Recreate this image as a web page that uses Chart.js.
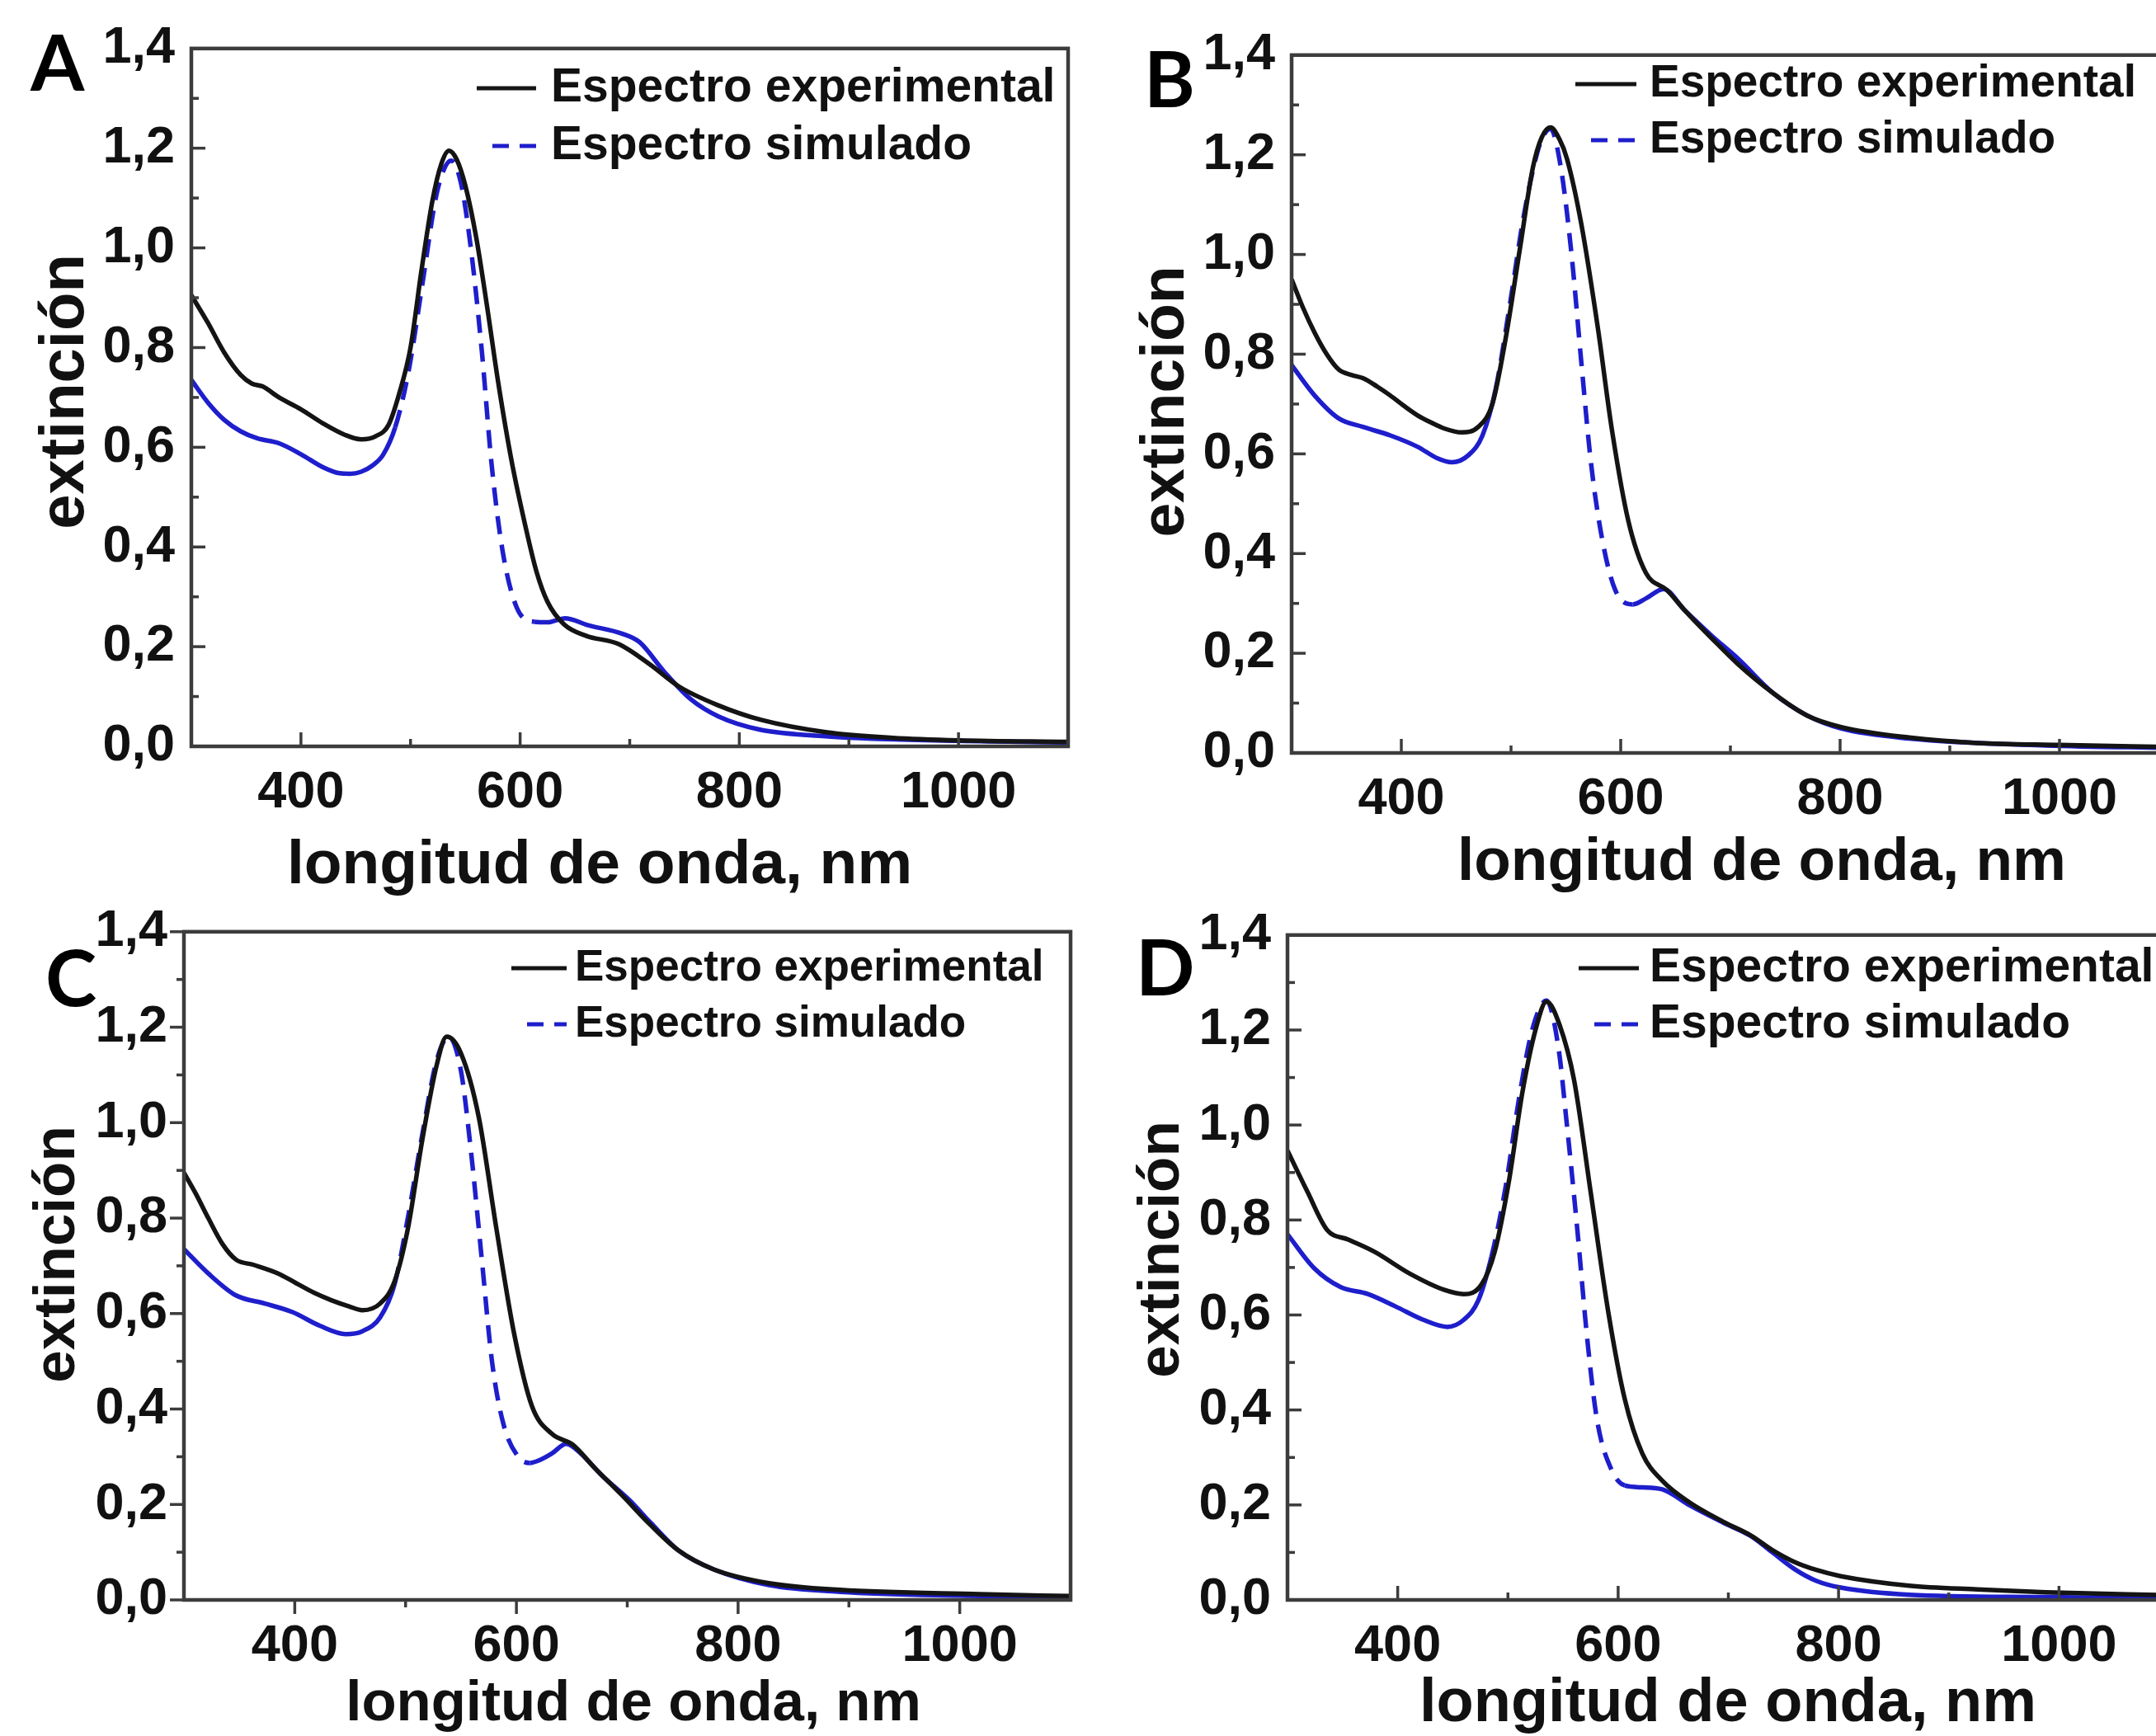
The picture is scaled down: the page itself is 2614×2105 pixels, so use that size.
<!DOCTYPE html>
<html lang="es">
<head>
    <meta charset="UTF-8">
    <title>Espectros de extinción</title>
    <script src="https://cdn.jsdelivr.net/npm/chart.js@4.4.1/dist/chart.umd.min.js"></script>
    <style>
        html, body { margin: 0; padding: 0; background: #fff; }
        body { width: 2614px; height: 2105px; overflow: hidden; position: relative; }
        canvas.panel { position: absolute; }
    </style>
</head>
<body>
<script>
// ---- data ----
const xAxisTitle = 'longitud de onda, nm';
const yAxisTitle = 'extinción';
const seriesLabels = ['Espectro experimental', 'Espectro simulado'];
const panelLetters = ['A', 'B', 'C', 'D'];
const xTickValues = [400, 600, 800, 1000];
const yTickValues = [0, 0.2, 0.4, 0.6, 0.8, 1.0, 1.2, 1.4];

// panel A
const wlExpA  = [300, 315, 330, 345, 355, 365, 380, 400, 420, 440, 455, 468, 480, 490, 500, 510, 520, 528, 535, 542, 550, 560, 570, 580, 592, 605, 615, 625, 640, 660, 690, 718, 745, 780, 820, 880, 940, 1000, 1100];
const expA    = [0.905, 0.85, 0.79, 0.745, 0.728, 0.722, 0.70, 0.676, 0.648, 0.625, 0.616, 0.622, 0.645, 0.71, 0.80, 0.955, 1.095, 1.168, 1.195, 1.178, 1.125, 1.02, 0.88, 0.73, 0.575, 0.44, 0.35, 0.29, 0.245, 0.222, 0.205, 0.165, 0.12, 0.083, 0.053, 0.028, 0.017, 0.012, 0.009];
const wlSimA  = [300, 315, 330, 345, 360, 380, 400, 420, 435, 445, 455, 465, 475, 486, 498, 511, 523, 530, 537, 546, 555, 565, 574, 584, 597, 613, 625, 641, 662, 693, 709, 731, 756, 781, 818, 881, 1000, 1100];
const simA    = [0.735, 0.69, 0.655, 0.632, 0.618, 0.608, 0.586, 0.56, 0.548, 0.547, 0.551, 0.563, 0.585, 0.64, 0.75, 0.93, 1.10, 1.155, 1.175, 1.13, 1.0, 0.794, 0.565, 0.392, 0.278, 0.25, 0.249, 0.257, 0.243, 0.226, 0.209, 0.151, 0.094, 0.06, 0.034, 0.02, 0.011, 0.008];

// panel B
const wlExpB  = [300, 310, 321, 332, 343, 355, 365, 378, 390, 402, 415, 427, 439, 455, 470, 483, 495, 508, 520, 528, 536, 544, 551, 564, 579, 592, 607, 623, 642, 658, 683, 707, 739, 770, 801, 863, 925, 1000, 1100];
const expB    = [0.95, 0.895, 0.843, 0.80, 0.769, 0.758, 0.752, 0.735, 0.717, 0.697, 0.677, 0.663, 0.651, 0.643, 0.654, 0.70, 0.83, 1.01, 1.175, 1.235, 1.255, 1.232, 1.192, 1.062, 0.855, 0.648, 0.465, 0.361, 0.327, 0.287, 0.23, 0.178, 0.12, 0.075, 0.052, 0.031, 0.02, 0.016, 0.012];
const wlSimB  = [300, 321, 343, 365, 390, 415, 433, 446, 461, 474, 486, 499, 511, 524, 530, 536, 545, 555, 564, 573, 583, 595, 611, 623, 639, 658, 683, 707, 739, 770, 801, 863, 988, 1100];
const simB    = [0.778, 0.717, 0.671, 0.654, 0.637, 0.614, 0.591, 0.583, 0.597, 0.637, 0.73, 0.90, 1.07, 1.205, 1.24, 1.252, 1.18, 1.004, 0.786, 0.58, 0.43, 0.327, 0.298, 0.31, 0.329, 0.287, 0.235, 0.189, 0.12, 0.075, 0.049, 0.029, 0.015, 0.01];

// panel C
const wlExpC  = [300, 311, 322, 335, 347, 363, 385, 401, 417, 433, 449, 461, 477, 490, 502, 515, 528, 537, 550, 566, 582, 598, 614, 632, 651, 670, 695, 721, 746, 778, 828, 892, 1018, 1100];
const expC    = [0.895, 0.85, 0.80, 0.745, 0.713, 0.702, 0.684, 0.664, 0.644, 0.628, 0.615, 0.607, 0.621, 0.667, 0.777, 0.963, 1.12, 1.18, 1.145, 1.012, 0.777, 0.557, 0.406, 0.348, 0.325, 0.278, 0.22, 0.157, 0.104, 0.064, 0.035, 0.021, 0.012, 0.008];
const wlSimC  = [300, 322, 347, 373, 398, 423, 446, 461, 477, 490, 502, 515, 528, 539, 550, 559, 569, 578, 588, 601, 612, 620, 632, 645, 658, 677, 702, 721, 746, 778, 828, 892, 1000, 1100];
const simC    = [0.735, 0.684, 0.638, 0.621, 0.603, 0.574, 0.557, 0.563, 0.592, 0.661, 0.80, 0.974, 1.13, 1.18, 1.108, 0.94, 0.708, 0.499, 0.371, 0.302, 0.287, 0.292, 0.307, 0.327, 0.307, 0.261, 0.209, 0.162, 0.104, 0.064, 0.031, 0.017, 0.009, 0.006];

// panel D
const wlExpD  = [300, 318, 336, 355, 379, 411, 442, 460, 476, 488, 501, 513, 525, 535, 547, 560, 575, 591, 606, 622, 640, 665, 696, 721, 740, 760, 780, 802, 864, 926, 988, 1100];
const expD    = [0.946, 0.86, 0.779, 0.759, 0.733, 0.687, 0.653, 0.644, 0.664, 0.733, 0.883, 1.067, 1.20, 1.26, 1.21, 1.095, 0.86, 0.607, 0.423, 0.308, 0.251, 0.205, 0.164, 0.135, 0.105, 0.08, 0.063, 0.05, 0.03, 0.022, 0.016, 0.01];
const wlSimD  = [300, 324, 348, 373, 398, 423, 445, 460, 473, 485, 498, 510, 522, 535, 546, 553, 563, 572, 581, 594, 606, 622, 640, 665, 696, 720, 740, 760, 780, 802, 864, 988, 1100];
const simD    = [0.77, 0.699, 0.659, 0.644, 0.618, 0.59, 0.575, 0.59, 0.63, 0.722, 0.871, 1.055, 1.20, 1.262, 1.16, 1.012, 0.779, 0.549, 0.377, 0.274, 0.241, 0.237, 0.233, 0.199, 0.162, 0.135, 0.1, 0.065, 0.04, 0.026, 0.011, 0.006, 0.003];

// ---- layout of each panel on the page ----
const panels = [
    { letter: panelLetters[0], lx: 37, ly: 110,
      plot: { l: 232, t: 51, r: 1295, b: 905 }, ticksIn: true, dash: [486, 613],
      xt: { x: 727, y: 1050, size: 75 }, yt: { x: 80, y: 475, size: 76 },
      lg: { x0: 578, x1: 650, tx: 668, y1: 107, y2: 177, size: 57 },
      exp: [wlExpA, expA], sim: [wlSimA, simA] },
    { letter: panelLetters[1], lx: 1387, ly: 130,
      plot: { l: 1566, t: 59, r: 2630, b: 913 }, ticksIn: true, dash: [486, 611],
      xt: { x: 2136, y: 1047, size: 73 }, yt: { x: 1414, y: 487, size: 75 },
      lg: { x0: 1910, x1: 1984, tx: 2000, y1: 102, y2: 170, size: 55 },
      exp: [wlExpB, expB], sim: [wlSimB, simB] },
    { letter: panelLetters[2], lx: 55, ly: 1220,
      plot: { l: 223, t: 1122, r: 1298, b: 1940 }, ticksIn: false, dash: [490, 612],
      xt: { x: 768, y: 2067, size: 69 }, yt: { x: 70, y: 1521, size: 71 },
      lg: { x0: 620, x1: 687, tx: 697, y1: 1174, y2: 1242, size: 53 },
      exp: [wlExpC, expC], sim: [wlSimC, simC] },
    { letter: panelLetters[3], lx: 1377, ly: 1207,
      plot: { l: 1561, t: 1126, r: 2630, b: 1940 }, ticksIn: true, dash: [485, 606],
      xt: { x: 2095, y: 2067, size: 74 }, yt: { x: 1409, y: 1515, size: 71 },
      lg: { x0: 1914, x1: 1987, tx: 2000, y1: 1174, y2: 1242, size: 57 },
      exp: [wlExpD, expD], sim: [wlSimD, simD] }
];

const PADL = 220, PADT = 50, PADR = 20, PADB = 200;
const FONT = '"Liberation Sans", Arial, sans-serif';
const BLACK = '#141414';
const BLUE = '#1e1ecc';
const FRAME = '#3c3c3c';

function toPoints(xs, ys) {
    return xs.map((x, i) => ({ x: x, y: ys[i] }));
}

// frame, inward/outward ticks, titles, legend and panel letter
const panelDecor = {
    id: 'panelDecor',
    afterDatasetsDraw(chart, args, o) {
        const ctx = chart.ctx;
        const a = chart.chartArea;
        const xs = chart.scales.x, ys = chart.scales.y;
        const p = o.panel;
        const ox = p.plot.l - PADL, oy = p.plot.t - PADT;
        const dir = p.ticksIn ? 1 : -1;

        ctx.save();
        ctx.strokeStyle = FRAME;
        ctx.lineWidth = 4.5;
        ctx.strokeRect(a.left, a.top, a.right - a.left, a.bottom - a.top);

        ctx.lineWidth = 3.5;
        const seg = (x0, y0, x1, y1) => {
            ctx.beginPath(); ctx.moveTo(x0, y0); ctx.lineTo(x1, y1); ctx.stroke();
        };
        ys.ticks.forEach((t, i) => {
            const y = ys.getPixelForValue(t.value);
            seg(a.left, y, a.left + dir * 17, y);
            if (i < ys.ticks.length - 1) {
                const ym = ys.getPixelForValue((t.value + ys.ticks[i + 1].value) / 2);
                seg(a.left, ym, a.left + dir * 9, ym);
            }
        });
        xs.ticks.forEach((t, i) => {
            const x = xs.getPixelForValue(t.value);
            seg(x, a.bottom, x, a.bottom - dir * 17);
            if (i < xs.ticks.length - 1) {
                const xm = xs.getPixelForValue((t.value + xs.ticks[i + 1].value) / 2);
                seg(xm, a.bottom, xm, a.bottom - dir * 9);
            }
        });

        // axis titles
        ctx.fillStyle = '#111';
        ctx.textAlign = 'center';
        ctx.textBaseline = 'middle';
        ctx.font = 'bold ' + p.xt.size + 'px ' + FONT;
        ctx.fillText(xAxisTitle, p.xt.x - ox, p.xt.y - oy);
        ctx.save();
        ctx.translate(p.yt.x - ox, p.yt.y - oy);
        ctx.rotate(-Math.PI / 2);
        ctx.font = 'bold ' + p.yt.size + 'px ' + FONT;
        ctx.fillText(yAxisTitle, 0, 0);
        ctx.restore();

        // legend
        const ds = chart.data.datasets;
        const lg = p.lg;
        ctx.lineWidth = 5;
        ctx.strokeStyle = ds[0].borderColor;
        seg(lg.x0 - ox, lg.y1 - oy, lg.x1 - ox, lg.y1 - oy);
        ctx.strokeStyle = ds[1].borderColor;
        ctx.setLineDash([20, 13]);
        seg(lg.x0 + 19 - ox, lg.y2 - oy, lg.x1 - ox, lg.y2 - oy);
        ctx.setLineDash([]);
        ctx.textAlign = 'left';
        ctx.font = 'bold ' + lg.size + 'px ' + FONT;
        ctx.fillText(ds[0].label, lg.tx - ox, lg.y1 - oy);
        ctx.fillText(ds[1].label, lg.tx - ox, lg.y2 - oy);

        // panel letter
        ctx.textBaseline = 'alphabetic';
        ctx.font = 'bold 94px Lato, "Open Sans", sans-serif';
        ctx.fillStyle = '#000';
        ctx.fillText(p.letter, p.lx - ox, p.ly - oy);
        ctx.restore();
    }
};

function makePanel(p) {
    const w = p.plot.r - p.plot.l + PADL + PADR;
    const h = p.plot.b - p.plot.t + PADT + PADB;
    const canvas = document.createElement('canvas');
    canvas.className = 'panel';
    canvas.width = w;
    canvas.height = h;
    canvas.style.left = (p.plot.l - PADL) + 'px';
    canvas.style.top = (p.plot.t - PADT) + 'px';
    canvas.style.width = w + 'px';
    canvas.style.height = h + 'px';
    document.body.appendChild(canvas);

    const tickFont = { family: FONT, size: 63, weight: 'bold' };

    return new Chart(canvas, {
        type: 'line',
        data: {
            datasets: [{
                label: seriesLabels[0],
                data: toPoints(p.exp[0], p.exp[1]),
                borderColor: BLACK,
                borderWidth: 5.5
            }, {
                label: seriesLabels[1],
                data: toPoints(p.sim[0], p.sim[1]),
                borderColor: BLUE,
                borderWidth: 5.5,
                segment: {
                    borderDash: c => (c.p0.parsed.x >= p.dash[0] && c.p1.parsed.x <= p.dash[1]) ? [22, 13] : undefined
                }
            }]
        },
        options: {
            responsive: false,
            animation: false,
            devicePixelRatio: 1,
            layout: { padding: { left: 0, top: PADT, right: PADR, bottom: 0 } },
            elements: {
                point: { radius: 0 },
                line: { cubicInterpolationMode: 'monotone', fill: false }
            },
            plugins: {
                legend: { display: false },
                tooltip: { enabled: false },
                panelDecor: { panel: p }
            },
            scales: {
                x: {
                    type: 'linear',
                    min: 300,
                    max: 1100,
                    grid: { display: false, drawTicks: false },
                    border: { display: false },
                    afterBuildTicks: s => { s.ticks = xTickValues.map(v => ({ value: v })); },
                    afterFit: s => { s.height = PADB; },
                    ticks: {
                        font: tickFont,
                        color: '#111',
                        padding: 19,
                        maxRotation: 0,
                        autoSkip: false,
                        callback: v => String(v)
                    }
                },
                y: {
                    min: 0,
                    max: 1.4,
                    grid: { display: false, drawTicks: false },
                    border: { display: false },
                    afterBuildTicks: s => { s.ticks = yTickValues.map(v => ({ value: v })); },
                    afterFit: s => { s.width = PADL; },
                    ticks: {
                        font: tickFont,
                        color: '#111',
                        padding: 20,
                        autoSkip: false,
                        callback: v => v.toFixed(1).replace('.', ',')
                    }
                }
            }
        },
        plugins: [panelDecor]
    });
}

panels.forEach(makePanel);
</script>
</body>
</html>
